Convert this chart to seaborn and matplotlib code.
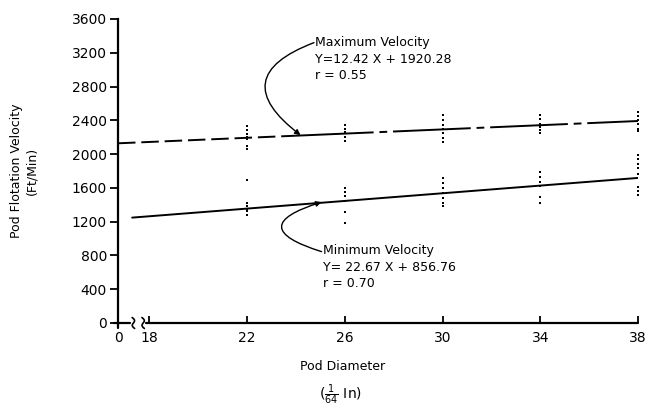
import matplotlib
matplotlib.use("Agg")
import matplotlib.pyplot as plt
import matplotlib.transforms as mtransforms
import numpy as np
import pandas as pd
import seaborn as sns

# ---------------- data ----------------
max_x = [22, 22, 22, 22, 22, 22, 22,
         26, 26, 26, 26, 26,
         30, 30, 30, 30, 30, 30, 30,
         34, 34, 34, 34, 34, 34,
         38, 38, 38, 38, 38, 38]
max_y = [2330, 2280, 2240, 2200, 2180, 2100, 2055,
         2350, 2300, 2260, 2200, 2160,
         2460, 2400, 2350, 2300, 2250, 2190, 2140,
         2460, 2410, 2360, 2320, 2280, 2250,
         2500, 2450, 2400, 2360, 2300, 2270]
min_x = [22, 22, 22, 22, 22, 22,
         26, 26, 26, 26, 26, 26,
         30, 30, 30, 30, 30, 30, 30,
         34, 34, 34, 34, 34, 34,
         38, 38, 38, 38, 38, 38, 38, 38]
min_y = [1690, 1420, 1380, 1350, 1330, 1280,
         1600, 1550, 1500, 1450, 1320, 1185,
         1720, 1660, 1600, 1540, 1480, 1420, 1380,
         1790, 1730, 1670, 1620, 1490, 1420,
         1990, 1940, 1880, 1830, 1760, 1610, 1560, 1520]

# regression lines (end points)
max_line_x = [16.72, 24.0, 38.0]
max_line_y = [2128, 2218, 2392]
min_line_x = [17.3, 38.0]
min_line_y = [1248, 1718]

x_ticks = [16.72, 18, 22, 26, 30, 34, 38]
x_tick_labels = ["0", "18", "22", "26", "30", "34", "38"]
y_ticks = [0, 400, 800, 1200, 1600, 2000, 2400, 2800, 3200, 3600]

max_text = "Maximum Velocity\nY=12.42 X + 1920.28\nr = 0.55"
min_text = "Minimum Velocity\nY= 22.67 X + 856.76\nr = 0.70"

# ---------------- figure ----------------
sns.set_theme(style="white")
plt.rcParams["font.family"] = ["DejaVu Sans"]
plt.rcParams["text.color"] = "black"
plt.rcParams["axes.labelcolor"] = "black"
plt.rcParams["xtick.color"] = "black"
plt.rcParams["ytick.color"] = "black"

fig = plt.figure(figsize=(6.70, 4.17), dpi=100)
ax = fig.add_axes([118 / 670, 1 - 323 / 417, (638 - 118) / 670, (323 - 19) / 417])

pts = pd.DataFrame({"x": max_x + min_x, "y": max_y + min_y})
sns.scatterplot(data=pts, x="x", y="y", ax=ax, color="black", marker="s",
                s=2.5, linewidth=0, legend=False, zorder=3)

ml = pd.DataFrame({"x": max_line_x, "y": max_line_y})
sns.lineplot(data=ml.iloc[0:2], x="x", y="y", ax=ax, color="black", lw=1.4,
             linestyle=(0, (9, 3)), legend=False)
sns.lineplot(data=ml.iloc[1:3], x="x", y="y", ax=ax, color="black", lw=1.4,
             linestyle=(0, (40, 3, 4, 3)), legend=False)
nl = pd.DataFrame({"x": min_line_x, "y": min_line_y})
sns.lineplot(data=nl, x="x", y="y", ax=ax, color="black", lw=1.4, legend=False)

ax.set_xlim(16.72, 38)
ax.set_ylim(0, 3600)
ax.set_xticks(x_ticks)
ax.set_xticklabels(x_tick_labels)
ax.set_yticks(y_ticks)
ax.set_yticklabels([str(v) for v in y_ticks])

for s in ["top", "right", "bottom"]:
    ax.spines[s].set_visible(False)
ax.spines["left"].set_color("black")
ax.spines["left"].set_linewidth(1.6)

ax.tick_params(axis="y", direction="out", length=6, width=1.3, color="black",
               labelsize=10, pad=2, left=True, labelcolor="black")
ax.tick_params(axis="x", direction="in", length=5, width=1.3, color="black",
               labelsize=10, pad=6, bottom=True, labelcolor="black")

# broken x axis line
trans = mtransforms.blended_transform_factory(ax.transData, ax.transAxes)
ax.plot([16.55, 17.22], [0, 0], transform=trans, color="black", lw=1.6, clip_on=False)
ax.plot([17.85, 38], [0, 0], transform=trans, color="black", lw=1.6, clip_on=False)
t = np.linspace(-1, 1, 30)
for xc in [17.35, 17.75]:
    ax.plot(xc + 0.07 * np.sin(np.pi * t) - 0.05 * t, 0.018 * t,
            transform=trans, color="black", lw=1.2, clip_on=False)
ax.plot([16.72, 16.72], [-0.015, 0], transform=trans, color="black", lw=1.6, clip_on=False)

# labels
ax.set_xlabel("")
ax.set_ylabel("Pod Flotation Velocity\n(Ft/Min)", fontsize=9, labelpad=24,
              linespacing=1.2, color="black")
fig.text(343 / 670, 1 - 367 / 417, "Pod Diameter", ha="center", va="center", fontsize=9)
fig.text(340 / 670, 1 - 395 / 417, r"($\frac{1}{64}$ In)", ha="center", va="center",
         fontsize=10)

# annotations
ax.text(24.78, 3395, max_text, fontsize=9, ha="left", va="top", linespacing=1.35)
ax.annotate("", xy=(24.19, 2225), xytext=(24.74, 3320),
            arrowprops=dict(arrowstyle="-|>", color="black", lw=1.0,
                            mutation_scale=8, shrinkA=0, shrinkB=0,
                            connectionstyle="arc3,rad=0.9"))
ax.text(25.1, 930, min_text, fontsize=9, ha="left", va="top", linespacing=1.35)
ax.annotate("", xy=(25.05, 1432), xytext=(25.05, 845),
            arrowprops=dict(arrowstyle="-|>", color="black", lw=1.0,
                            mutation_scale=8, shrinkA=0, shrinkB=0,
                            connectionstyle="arc3,rad=-1.6"))

fig.savefig("out.png", dpi=100)
